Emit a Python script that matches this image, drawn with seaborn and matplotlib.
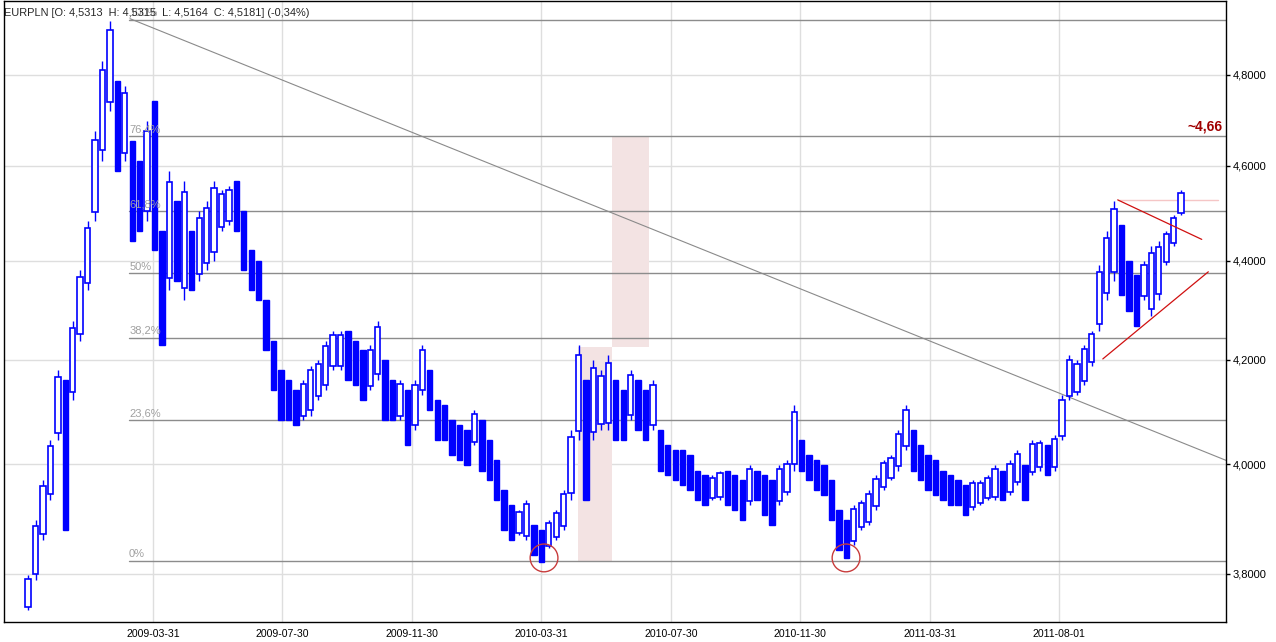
import matplotlib
matplotlib.use("Agg")

import numpy as np
import matplotlib.pyplot as plt
import matplotlib.ticker as mticker
import seaborn as sns

# x axis = trading days counted from 2009-03-31
tick_dates = ["2009-03-31", "2009-07-30", "2009-11-30", "2010-03-31",
              "2010-07-30", "2010-11-30", "2011-03-31", "2011-08-01"]
price_ticks = [3.8, 4.0, 4.2, 4.4, 4.6, 4.8]

# weekly ranges (first week = 84 trading days before 2009-03-31)
week_high = [3.797, 3.896, 3.970, 4.045, 4.180, 4.160, 4.278, 4.380, 4.483, 4.676,
             4.832, 4.923, 4.787, 4.775, 4.654, 4.611, 4.698, 4.742, 4.462, 4.589,
             4.525, 4.568, 4.462, 4.504, 4.525, 4.568, 4.547, 4.557, 4.568, 4.504,
             4.421, 4.400, 4.319, 4.238, 4.180, 4.160, 4.141, 4.160, 4.189, 4.199,
             4.238, 4.258, 4.258, 4.258, 4.238, 4.219, 4.229, 4.278, 4.199, 4.160,
             4.160, 4.141, 4.160, 4.229, 4.180, 4.121, 4.112, 4.083, 4.073, 4.064,
             4.102, 4.083, 4.045, 4.007, 3.951, 3.924, 3.915, 3.933, 3.887, 3.878,
             3.896, 3.915, 3.951, 4.064, 4.229, 4.160, 4.199, 4.180, 4.209, 4.160,
             4.141, 4.180, 4.160, 4.141, 4.160, 4.064, 4.035, 4.026, 4.026, 4.017,
             3.988, 3.979, 3.979, 3.988, 3.988, 3.979, 3.970, 3.998, 3.988, 3.979,
             3.970, 3.998, 4.007, 4.112, 4.045, 4.017, 4.007, 3.998, 3.970, 3.915,
             3.896, 3.924, 3.933, 3.951, 3.979, 4.007, 4.017, 4.064, 4.112, 4.064,
             4.035, 4.017, 4.007, 3.988, 3.979, 3.970, 3.961, 3.970, 3.970, 3.979,
             3.998, 3.988, 4.007, 4.026, 3.998, 4.045, 4.045, 4.035, 4.054, 4.131,
             4.209, 4.199, 4.229, 4.258, 4.390, 4.462, 4.525, 4.473, 4.400, 4.370,
             4.400, 4.431, 4.441, 4.462, 4.494, 4.547]
week_low = [3.735, 3.788, 3.860, 3.933, 4.045, 3.878, 4.121, 4.238, 4.339, 4.483,
            4.611, 4.720, 4.589, 4.611, 4.441, 4.462, 4.483, 4.421, 4.229, 4.339,
            4.359, 4.319, 4.339, 4.359, 4.380, 4.400, 4.462, 4.473, 4.462, 4.380,
            4.339, 4.319, 4.219, 4.141, 4.083, 4.083, 4.073, 4.083, 4.092, 4.121,
            4.141, 4.180, 4.180, 4.160, 4.150, 4.121, 4.141, 4.160, 4.083, 4.083,
            4.083, 4.035, 4.064, 4.131, 4.102, 4.045, 4.045, 4.017, 4.007, 3.998,
            4.035, 3.988, 3.970, 3.933, 3.878, 3.860, 3.869, 3.860, 3.833, 3.820,
            3.845, 3.860, 3.878, 3.933, 4.045, 3.933, 4.045, 4.064, 4.064, 4.045,
            4.045, 4.083, 4.064, 4.045, 4.064, 3.988, 3.979, 3.970, 3.961, 3.951,
            3.933, 3.924, 3.933, 3.933, 3.924, 3.915, 3.896, 3.924, 3.933, 3.906,
            3.887, 3.924, 3.942, 3.988, 3.988, 3.970, 3.951, 3.942, 3.896, 3.842,
            3.828, 3.851, 3.878, 3.887, 3.915, 3.951, 3.970, 3.988, 4.026, 3.988,
            3.970, 3.951, 3.942, 3.933, 3.924, 3.924, 3.906, 3.915, 3.924, 3.933,
            3.933, 3.933, 3.942, 3.961, 3.933, 3.979, 3.988, 3.979, 3.988, 4.045,
            4.121, 4.131, 4.150, 4.189, 4.258, 4.319, 4.359, 4.329, 4.298, 4.268,
            4.319, 4.288, 4.319, 4.390, 4.431, 4.494]
first_week = -84
week_step = 5.0

fib_low, fib_high = 3.823, 4.925
fib_ratios = [0.0, 0.236, 0.382, 0.5, 0.618, 0.764, 1.0]
fib_labels = ["0%", "23,6%", "38,2%", "50%", "61,8%", "76,4%", "100%"]
fib_start = -16.1

trend_x, trend_p = [-15.5, 721.2], [4.928, 4.007]
tri_up_x, tri_up_p = [648.4, 704.9], [4.527, 4.444]
tri_lo_x, tri_lo_p = [638.4, 709.3], [4.202, 4.377]
resist_x, resist_p = [648.4, 715.9], [4.527, 4.527]
circle_x, circle_p = [262.8, 465.8], [3.828, 3.828]
box1_x, box1_p = [285.5, 308.3], [3.823, 4.225]
box2_x, box2_p = [308.3, 333.2], [4.225, 4.663]

title = "EURPLN [O: 4,5313  H: 4,5315  L: 4,5164  C: 4,5181] (-0,34%)"

sns.set_style("white")
plt.rcParams["font.family"] = ["Liberation Sans", "DejaVu Sans"]

W, H = 1276, 642
fig = plt.figure(figsize=(W / 100, H / 100), dpi=100)
ax = fig.add_axes([4 / W, 20 / H, 1222 / W, 621 / H])
ax.set_yscale("log")
ax.set_xlim(-100.2, 721.2)
ax.set_ylim(3.7148, 4.969)

tick_pos = np.busday_count("2009-03-31", tick_dates)
ax.xaxis.set_major_locator(mticker.FixedLocator(tick_pos))
ax.xaxis.set_major_formatter(mticker.FixedFormatter(tick_dates))
ax.yaxis.set_major_locator(mticker.FixedLocator(price_ticks))
ax.yaxis.set_minor_locator(mticker.NullLocator())
ax.yaxis.set_major_formatter(mticker.FuncFormatter(lambda v, _: f"{v:.4f}".replace(".", ",")))
ax.yaxis.tick_right()
ax.tick_params(axis="both", direction="out", length=3, width=1, colors="black",
               labelsize=8, pad=2)
ax.tick_params(axis="x", labelsize=7.6)
ax.tick_params(axis="y", left=False, right=True)
ax.grid(True, color="#dedede", linewidth=1)
ax.set_axisbelow(True)
for sp in ax.spines.values():
    sp.set_color("black")
    sp.set_linewidth(1)

# shaded projection boxes
ax.fill_between(box1_x, box1_p[0], box1_p[1], color="#f3e3e3", lw=0, zorder=1)
ax.fill_between(box2_x, box2_p[0], box2_p[1], color="#f3e3e3", lw=0, zorder=1)

# fibonacci levels
fib_levels = [fib_low + r * (fib_high - fib_low) for r in fib_ratios]
for lvl, lab in zip(fib_levels, fib_labels):
    ax.plot([fib_start, 721.2], [lvl, lvl], color="#8c8c8c", lw=1, zorder=2)
    ax.text(fib_start, lvl * 1.0008, lab, color="#a0a0a0", fontsize=8,
            ha="left", va="bottom", zorder=6)

sns.lineplot(x=trend_x, y=trend_p, ax=ax, color="#8a8a8a", lw=0.8, zorder=2)
sns.lineplot(x=resist_x, y=resist_p, ax=ax, color="#f5c6c6", lw=1, zorder=2)

# weekly price bars: hollow when the week's midpoint rose, filled when it fell
hi = np.array(week_high)
lo = np.array(week_low)
mid = (hi + lo) / 2
rising = np.r_[True, mid[1:] >= mid[:-1]]
wx = first_week + week_step * np.arange(len(hi))
ax.vlines(wx, lo, hi, color="#0000ff", lw=1, zorder=4)
ax.bar(wx[~rising], (hi - lo)[~rising], bottom=lo[~rising], width=3.6,
       color="#0000ff", edgecolor="#0000ff", linewidth=1, zorder=4)
ax.bar(wx[rising], (hi - lo)[rising] * 0.8, bottom=lo[rising] + (hi - lo)[rising] * 0.1,
       width=3.6, facecolor="white", edgecolor="#0000ff", linewidth=1.2, zorder=4)

sns.lineplot(x=tri_up_x, y=tri_up_p, ax=ax, color="#d01010", lw=0.9, zorder=5)
sns.lineplot(x=tri_lo_x, y=tri_lo_p, ax=ax, color="#d01010", lw=0.9, zorder=5)
ax.scatter(circle_x, circle_p, s=400, facecolors="none", edgecolors="#c83c3c",
           linewidths=1, zorder=5)

ax.text(718.6, 4.685, "~4,66", color="#a00000", fontsize=10, fontweight="bold",
        ha="right", va="center", zorder=6)

fig.text(4 / W, 1 - 13 / H, title, fontsize=7.9, ha="left", va="center", zorder=3)

fig.savefig("out.png", dpi=100)
plt.close(fig)
